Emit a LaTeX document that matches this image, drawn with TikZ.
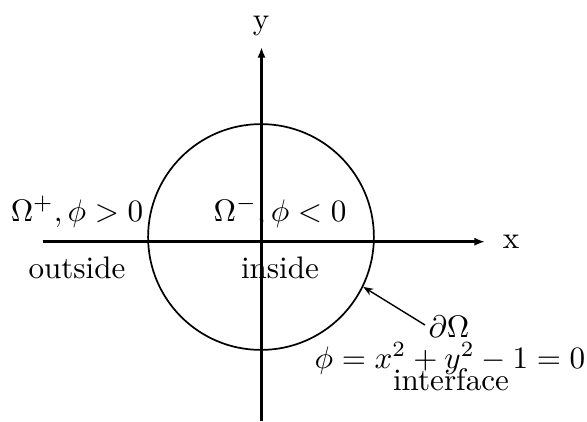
\documentclass[tikz,border=0pt]{standalone}
\usetikzlibrary{arrows.meta}
\begin{document}
\begin{tikzpicture}[x=0.3215pt,y=-0.3215pt,
  axis/.style={line width=0.95pt,-{Latex[length=3.4pt,width=2.6pt]}},
  lbl/.style={inner sep=0pt,anchor=base},
  pointer/.style={line width=0.45pt,-{Stealth[length=3.2pt,width=2.4pt]}}]
\useasboundingbox (0,0) rectangle (587,421);
% axes
\coordinate (xs) at (43,241.7);
\coordinate (xe) at (485,241.7);
\coordinate (ys) at (261.5,421);
\coordinate (ye) at (261.5,47);
\draw[axis] (xs) -- (xe);
\draw[axis] (ys) -- (ye);
\node[lbl] (xl) at (511,248) {x};
\node[lbl] (yl) at (261,29) {y};
% circle
\node[circle,draw,line width=0.55pt,inner sep=0pt,minimum size=72.6pt] (C) at (261,237) {};
% region labels
\node[lbl] (op) at (77,221) {$\Omega^+,\phi>0$};
\node[lbl] (out) at (77,278) {outside};
\node[lbl] (om) at (280,221) {$\Omega^-,\phi<0$};
\node[lbl] (in) at (280,278) {inside};
% interface labels
\node[lbl] (dO) at (449,337) {$\partial\Omega$};
\node[lbl] (eq) at (450,368) {$\phi=x^2+y^2-1=0$};
\node[lbl] (itf) at (451,390) {interface};
\coordinate (ps) at (425,325);
\draw[pointer] (ps) -- (C.-26);
\end{tikzpicture}
\end{document}
